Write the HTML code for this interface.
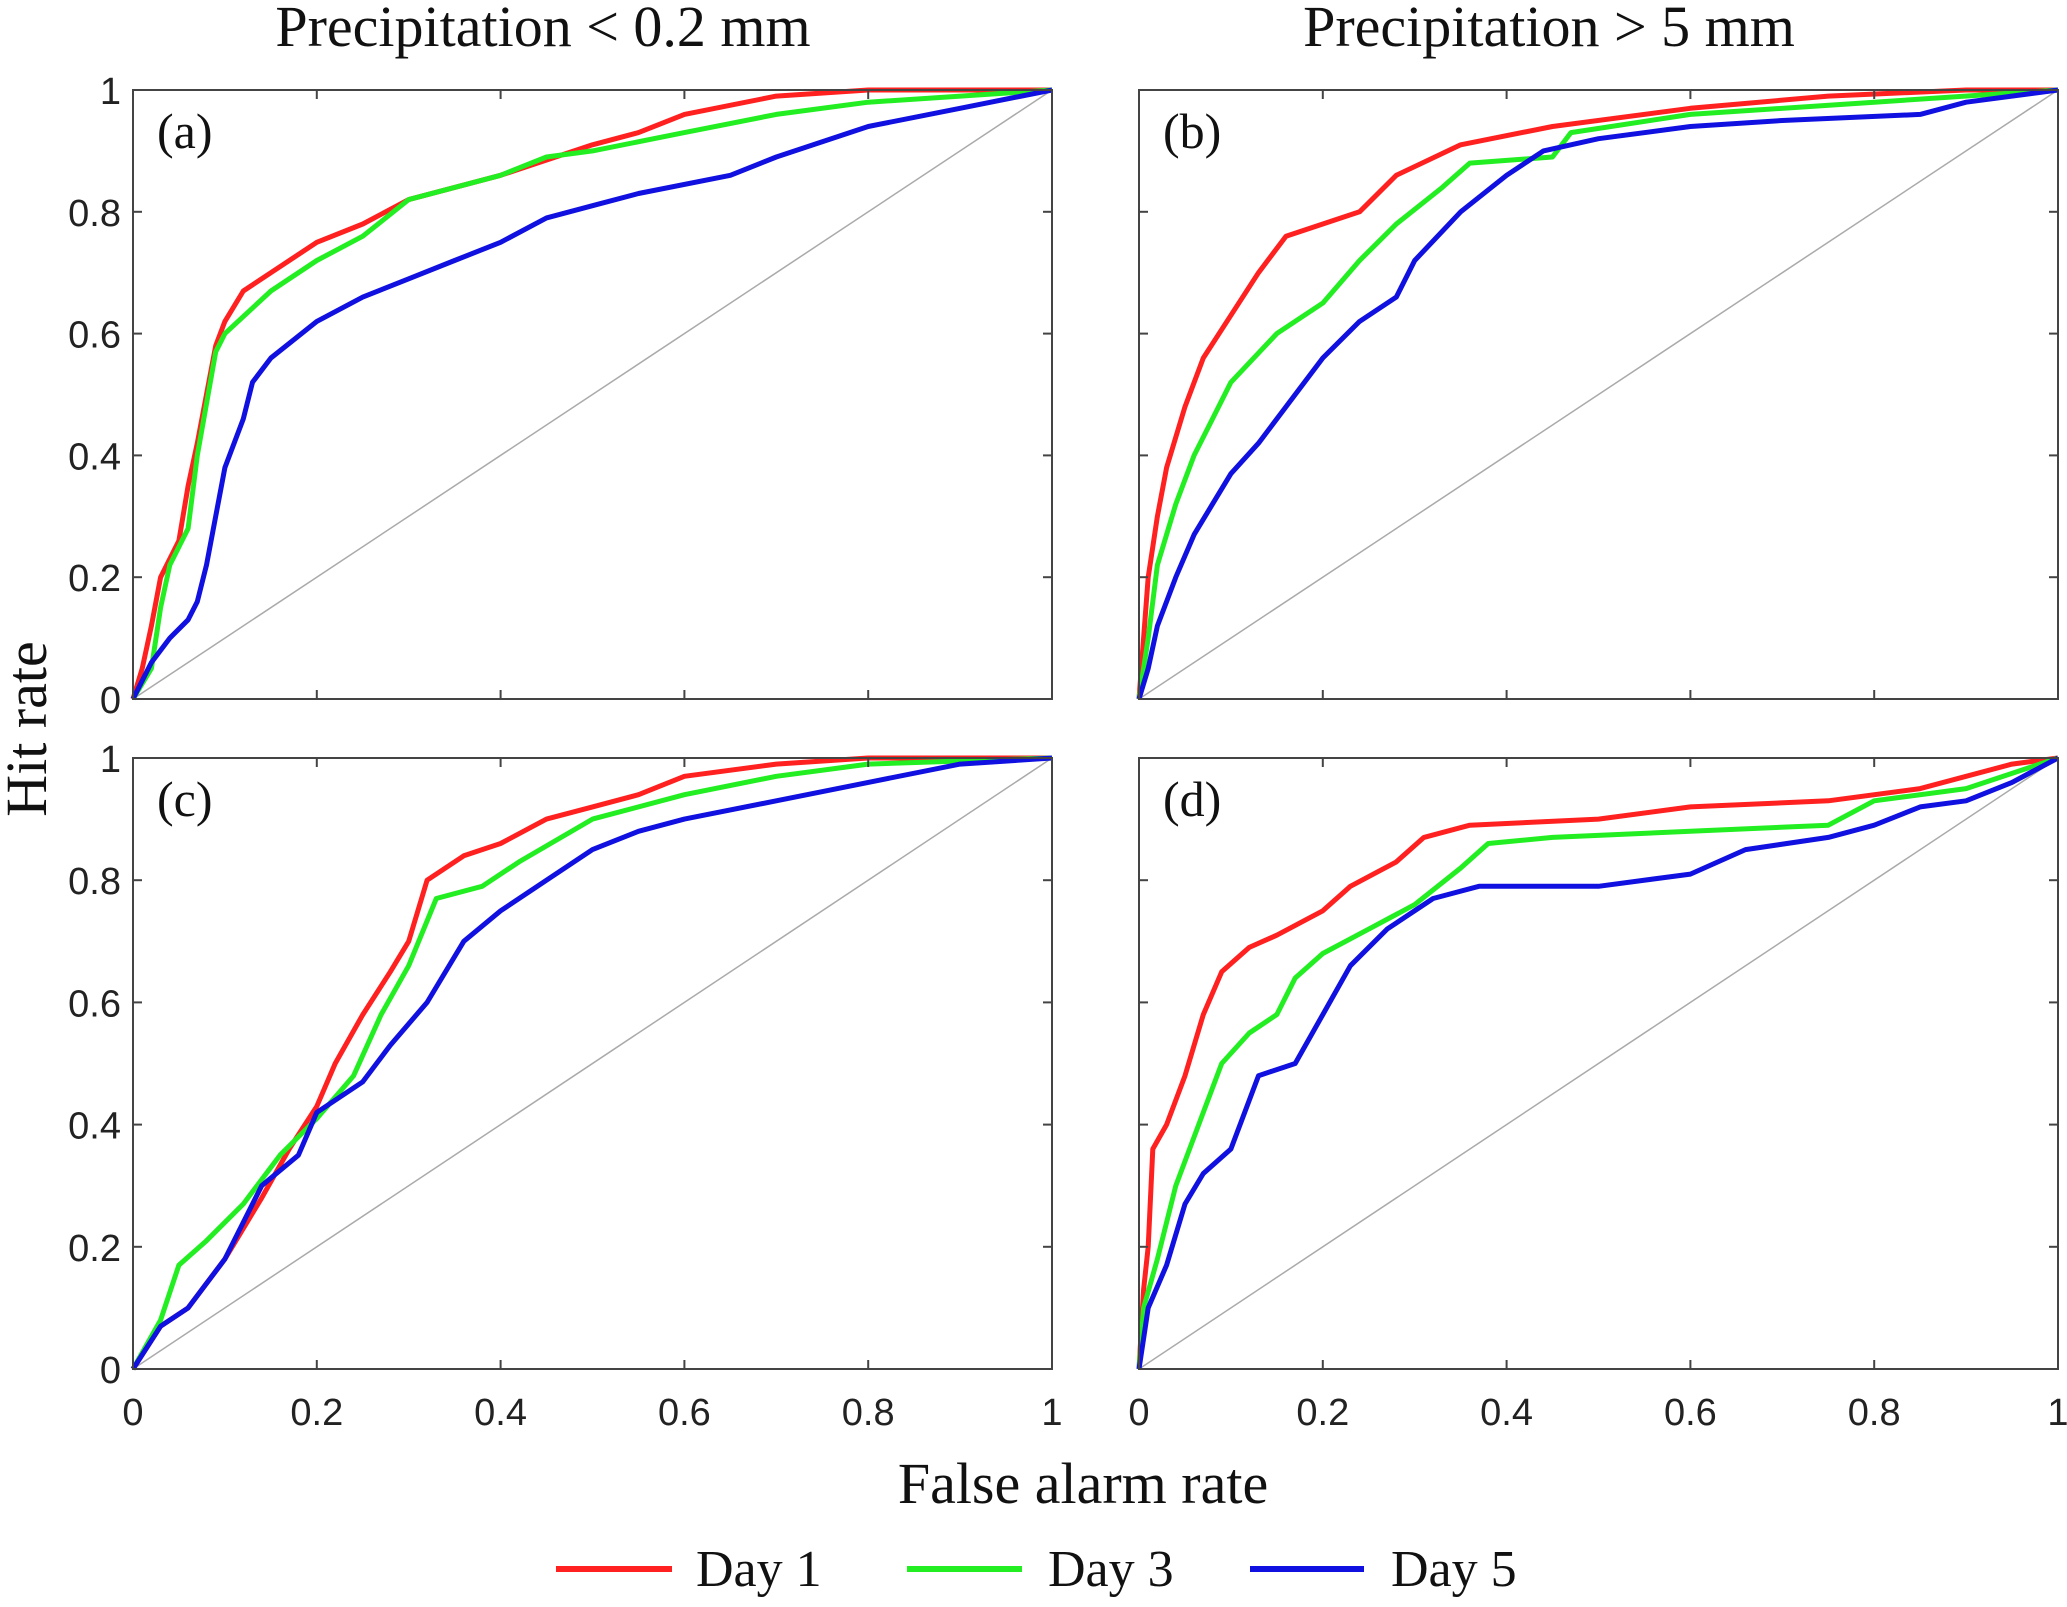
<!DOCTYPE html>
<html><head><meta charset="utf-8"><style>
html,body{margin:0;padding:0;background:#fff;}
svg{display:block;}
.tk{font-family:"Liberation Sans",sans-serif;font-size:38px;fill:#222;}
.sf{font-family:"Liberation Serif",serif;fill:#111;}
</style></head><body>
<svg id="chart" width="2067" height="1607" viewBox="0 0 2067 1607">
<text class="sf" x="543" y="46" font-size="58" text-anchor="middle">Precipitation &lt; 0.2 mm</text>
<text class="sf" x="1549" y="46" font-size="58" text-anchor="middle">Precipitation &gt; 5 mm</text>
<text class="sf" x="46" y="729" font-size="58" text-anchor="middle" transform="rotate(-90 46 729)">Hit rate</text>
<text class="sf" x="1083" y="1503" font-size="58" text-anchor="middle">False alarm rate</text>
<g>
<line x1="556" y1="1569" x2="672" y2="1569" stroke="#ff2020" stroke-width="6"/>
<text class="sf" x="696" y="1586" font-size="52">Day 1</text>
<line x1="907" y1="1569" x2="1022" y2="1569" stroke="#22ee22" stroke-width="6"/>
<text class="sf" x="1048" y="1586" font-size="52">Day 3</text>
<line x1="1250" y1="1569" x2="1364" y2="1569" stroke="#1010e0" stroke-width="6"/>
<text class="sf" x="1391" y="1586" font-size="52">Day 5</text>
</g>
</svg>
<script>
const panelLabels=["(a)","(b)","(c)","(d)"];
const tickValues=[0,0.2,0.4,0.6,0.8,1];
const tickLabels=["0","0.2","0.4","0.6","0.8","1"];
const seriesNames=["day1","day3","day5"];
const seriesColors=["#ff2020","#22ee22","#1010e0"];
const aRedX=[0,0.01,0.02,0.03,0.05,0.06,0.07,0.08,0.09,0.1,0.12,0.15,0.2,0.25,0.3,0.4,0.5,0.55,0.6,0.7,0.8,1];
const aRedY=[0,0.05,0.12,0.2,0.26,0.35,0.42,0.5,0.58,0.62,0.67,0.7,0.75,0.78,0.82,0.86,0.91,0.93,0.96,0.99,1,1];
const aGreenX=[0,0.02,0.03,0.04,0.06,0.07,0.09,0.1,0.15,0.2,0.25,0.3,0.4,0.45,0.5,0.6,0.7,0.8,1];
const aGreenY=[0,0.05,0.15,0.22,0.28,0.4,0.57,0.6,0.67,0.72,0.76,0.82,0.86,0.89,0.9,0.93,0.96,0.98,1];
const aBlueX=[0,0.02,0.04,0.06,0.07,0.08,0.09,0.1,0.12,0.13,0.15,0.2,0.25,0.3,0.35,0.4,0.45,0.5,0.55,0.65,0.7,0.8,0.9,1];
const aBlueY=[0,0.06,0.1,0.13,0.16,0.22,0.3,0.38,0.46,0.52,0.56,0.62,0.66,0.69,0.72,0.75,0.79,0.81,0.83,0.86,0.89,0.94,0.97,1];
const bRedX=[0,0.005,0.01,0.02,0.03,0.05,0.07,0.1,0.13,0.16,0.2,0.24,0.28,0.35,0.45,0.6,0.75,0.9,1];
const bRedY=[0,0.1,0.2,0.3,0.38,0.48,0.56,0.63,0.7,0.76,0.78,0.8,0.86,0.91,0.94,0.97,0.99,1,1];
const bGreenX=[0,0.01,0.02,0.04,0.06,0.08,0.1,0.15,0.2,0.24,0.28,0.33,0.36,0.45,0.47,0.6,0.8,1];
const bGreenY=[0,0.1,0.22,0.32,0.4,0.46,0.52,0.6,0.65,0.72,0.78,0.84,0.88,0.89,0.93,0.96,0.98,1];
const bBlueX=[0,0.01,0.02,0.04,0.06,0.08,0.1,0.13,0.16,0.2,0.24,0.28,0.3,0.35,0.4,0.44,0.5,0.6,0.7,0.85,0.9,1];
const bBlueY=[0,0.05,0.12,0.2,0.27,0.32,0.37,0.42,0.48,0.56,0.62,0.66,0.72,0.8,0.86,0.9,0.92,0.94,0.95,0.96,0.98,1];
const cRedX=[0,0.03,0.06,0.1,0.14,0.17,0.2,0.22,0.25,0.28,0.3,0.32,0.36,0.4,0.45,0.5,0.55,0.6,0.7,0.8,1];
const cRedY=[0,0.07,0.1,0.18,0.28,0.36,0.43,0.5,0.58,0.65,0.7,0.8,0.84,0.86,0.9,0.92,0.94,0.97,0.99,1,1];
const cGreenX=[0,0.03,0.05,0.08,0.12,0.16,0.2,0.24,0.27,0.3,0.33,0.38,0.42,0.5,0.6,0.7,0.8,1];
const cGreenY=[0,0.08,0.17,0.21,0.27,0.35,0.41,0.48,0.58,0.66,0.77,0.79,0.83,0.9,0.94,0.97,0.99,1];
const cBlueX=[0,0.03,0.06,0.1,0.14,0.18,0.2,0.25,0.28,0.32,0.36,0.4,0.45,0.5,0.55,0.6,0.7,0.8,0.9,1];
const cBlueY=[0,0.07,0.1,0.18,0.3,0.35,0.42,0.47,0.53,0.6,0.7,0.75,0.8,0.85,0.88,0.9,0.93,0.96,0.99,1];
const dRedX=[0,0.005,0.01,0.015,0.03,0.05,0.07,0.09,0.12,0.15,0.2,0.23,0.28,0.31,0.36,0.5,0.6,0.75,0.85,0.95,1];
const dRedY=[0,0.13,0.2,0.36,0.4,0.48,0.58,0.65,0.69,0.71,0.75,0.79,0.83,0.87,0.89,0.9,0.92,0.93,0.95,0.99,1];
const dGreenX=[0,0.005,0.02,0.04,0.07,0.09,0.12,0.15,0.17,0.2,0.25,0.3,0.35,0.38,0.45,0.6,0.75,0.8,0.9,1];
const dGreenY=[0,0.1,0.18,0.3,0.42,0.5,0.55,0.58,0.64,0.68,0.72,0.76,0.82,0.86,0.87,0.88,0.89,0.93,0.95,1];
const dBlueX=[0,0.005,0.01,0.03,0.05,0.07,0.1,0.13,0.17,0.2,0.23,0.27,0.32,0.37,0.5,0.6,0.66,0.75,0.8,0.85,0.9,0.95,1];
const dBlueY=[0,0.05,0.1,0.17,0.27,0.32,0.36,0.48,0.5,0.58,0.66,0.72,0.77,0.79,0.79,0.81,0.85,0.87,0.89,0.92,0.93,0.96,1];

const NS="http://www.w3.org/2000/svg";
const svg=document.getElementById('chart');
const panels=[
 {x0:133,x1:1052,y0:90,y1:699,ylab:true,xlab:false,data:[[aRedX,aRedY],[aGreenX,aGreenY],[aBlueX,aBlueY]]},
 {x0:1139,x1:2058,y0:90,y1:699,ylab:false,xlab:false,data:[[bRedX,bRedY],[bGreenX,bGreenY],[bBlueX,bBlueY]]},
 {x0:133,x1:1052,y0:758,y1:1369,ylab:true,xlab:true,data:[[cRedX,cRedY],[cGreenX,cGreenY],[cBlueX,cBlueY]]},
 {x0:1139,x1:2058,y0:758,y1:1369,ylab:false,xlab:true,data:[[dRedX,dRedY],[dGreenX,dGreenY],[dBlueX,dBlueY]]}
];
function mk(tag,attrs,parent){const e=document.createElementNS(NS,tag);for(const k in attrs)e.setAttribute(k,attrs[k]);parent.appendChild(e);return e;}
panels.forEach((p,i)=>{
 const sx=v=>p.x0+v*(p.x1-p.x0);
 const sy=v=>p.y1-v*(p.y1-p.y0);
 const g=mk('g',{},svg);
 
 
 const diag=mk('line',{x1:sx(0),y1:sy(0),x2:sx(1),y2:sy(1),stroke:'#aaa','stroke-width':1.5},g);
 
 
 p.data.forEach((s,j)=>{
  const pts=s[0].map((x,k)=>sx(x).toFixed(1)+','+sy(s[1][k]).toFixed(1)).join(' ');
  const pl=mk('polyline',{points:pts,fill:'none',stroke:seriesColors[j],'stroke-width':5,'stroke-linejoin':'round'},g);
  
  
 });
 const fr=mk('rect',{x:p.x0,y:p.y0,width:p.x1-p.x0,height:p.y1-p.y0,fill:'none',stroke:'#444','stroke-width':2},g);
 
 
 tickValues.forEach((v,k)=>{
  mk('line',{x1:sx(v),y1:p.y1,x2:sx(v),y2:p.y1-9,stroke:'#444','stroke-width':2},g);
  mk('line',{x1:sx(v),y1:p.y0,x2:sx(v),y2:p.y0+9,stroke:'#444','stroke-width':2},g);
  mk('line',{x1:p.x0,y1:sy(v),x2:p.x0+9,y2:sy(v),stroke:'#444','stroke-width':2},g);
  mk('line',{x1:p.x1,y1:sy(v),x2:p.x1-9,y2:sy(v),stroke:'#444','stroke-width':2},g);
  if(p.ylab){const t=mk('text',{x:p.x0-12,y:sy(v)+14,'text-anchor':'end',class:'tk'},g);t.textContent=tickLabels[k];
   
   }
  if(p.xlab){const t=mk('text',{x:sx(v),y:p.y1+56,'text-anchor':'middle',class:'tk'},g);t.textContent=tickLabels[k];
   
   }
 });
 const lb=mk('text',{x:p.x0+24,y:p.y0+58,class:'sf','font-size':50},g);
 lb.textContent=panelLabels[i];
 
 
});
</script>
</body></html>
